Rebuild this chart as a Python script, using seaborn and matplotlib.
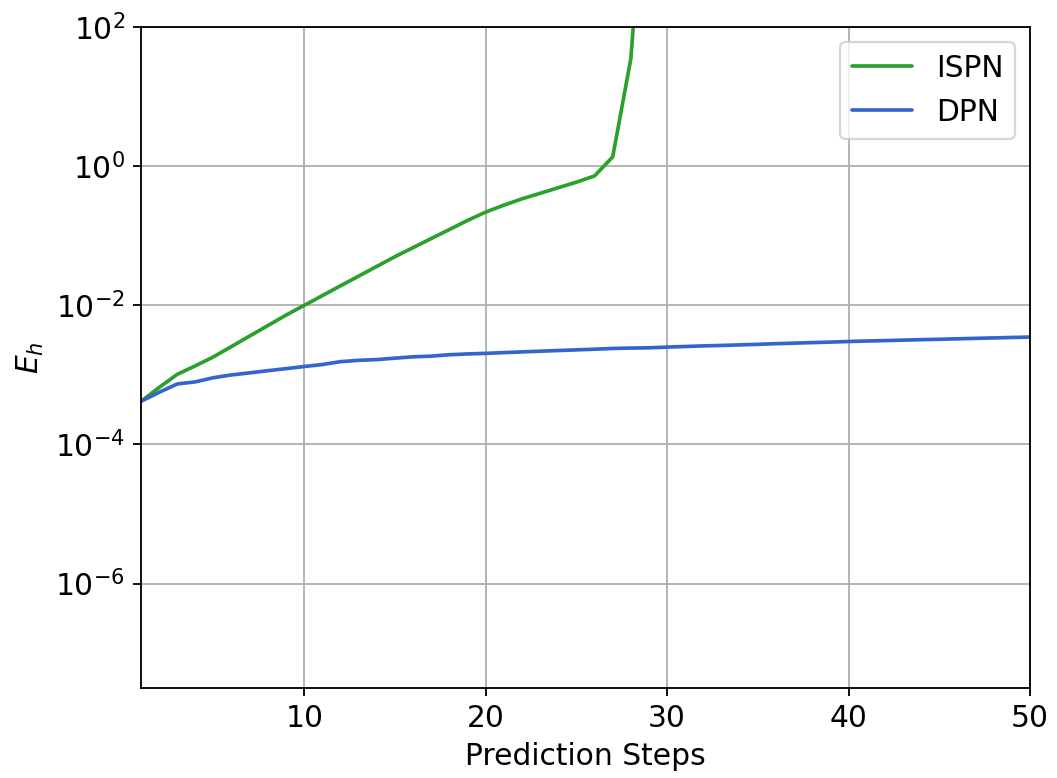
import numpy as np
import pandas as pd
import matplotlib
matplotlib.use("Agg")
import matplotlib.pyplot as plt
import matplotlib.ticker as mticker
import seaborn as sns

steps = list(range(1, 51))

ispn = [4.17e-4, 6.6e-4, 1.02e-3, 1.35e-3, 1.82e-3, 2.57e-3, 3.63e-3, 5.13e-3, 7.24e-3, 1.0e-2,
        1.38e-2, 1.91e-2, 2.63e-2, 3.63e-2, 5.01e-2, 6.76e-2, 9.12e-2, 0.123, 0.166, 0.219,
        0.275, 0.339, 0.407, 0.490, 0.589, 0.724, 1.36, 35.0, 1e5, 1e8,
        1e10, 1e12, 1e14, 1e16, 1e18, 1e20, 1e22, 1e24, 1e26, 1e28,
        1e30, 1e32, 1e34, 1e36, 1e38, 1e40, 1e42, 1e44, 1e46, 1e48]

dpn = [4.17e-4, 5.62e-4, 7.41e-4, 7.94e-4, 9.12e-4, 1.0e-3, 1.07e-3, 1.15e-3, 1.23e-3, 1.32e-3,
       1.41e-3, 1.55e-3, 1.62e-3, 1.66e-3, 1.74e-3, 1.82e-3, 1.86e-3, 1.95e-3, 2.0e-3, 2.04e-3,
       2.09e-3, 2.14e-3, 2.19e-3, 2.24e-3, 2.29e-3, 2.34e-3, 2.40e-3, 2.43e-3, 2.45e-3, 2.51e-3,
       2.56e-3, 2.61e-3, 2.65e-3, 2.70e-3, 2.75e-3, 2.81e-3, 2.86e-3, 2.91e-3, 2.96e-3, 3.02e-3,
       3.07e-3, 3.11e-3, 3.16e-3, 3.21e-3, 3.25e-3, 3.30e-3, 3.35e-3, 3.40e-3, 3.45e-3, 3.50e-3]

series_names = ["ISPN", "DPN"]
colors = {"ISPN": "#2ca02c", "DPN": "#3366cc"}

df = pd.DataFrame({
    "step": steps * 2,
    "value": ispn + dpn,
    "model": ["ISPN"] * len(steps) + ["DPN"] * len(steps),
})

sns.set_style("white")
plt.rcParams["font.family"] = ["DejaVu Sans"]
plt.rcParams["text.color"] = "black"
plt.rcParams["axes.labelcolor"] = "black"
plt.rcParams["xtick.color"] = "black"
plt.rcParams["ytick.color"] = "black"
fs = 13

fig = plt.figure(figsize=(1057 / 165, 778 / 165), dpi=165)
ax = fig.add_axes([141 / 1057, 1 - 688 / 778, (1030 - 141) / 1057, (688 - 27) / 778])

sns.lineplot(data=df, x="step", y="value", hue="model", hue_order=series_names,
             palette=colors, ax=ax, linewidth=1.6)

ax.set_yscale("log")
ax.set_xlim(1, 50)
ax.set_ylim(10 ** -7.5, 1e2)
ax.yaxis.set_major_locator(mticker.FixedLocator([1e-6, 1e-4, 1e-2, 1e0, 1e2]))
ax.yaxis.set_minor_locator(mticker.NullLocator())
ax.set_xticks([10, 20, 30, 40, 50])
ax.grid(True, color="#b0b0b0", linewidth=0.8)
ax.tick_params(axis="both", which="major", direction="out", length=3.5, width=0.8,
               left=True, bottom=True, labelsize=fs, color="black", labelcolor="black")
for sp in ax.spines.values():
    sp.set_color("black")
    sp.set_linewidth(0.8)
ax.set_xlabel("Prediction Steps", fontsize=fs, color="black")
ax.set_ylabel(r"$E_h$", fontsize=fs, color="black")
leg = ax.legend(loc="upper right", fontsize=fs, frameon=True)
leg.get_frame().set_edgecolor("#cccccc")
for t in leg.get_texts():
    t.set_color("black")

fig.savefig("out.png", dpi=165)
